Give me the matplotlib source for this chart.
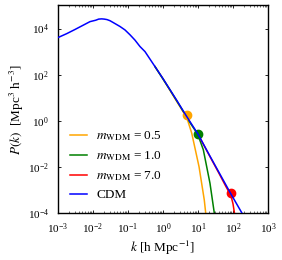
import matplotlib
matplotlib.use("Agg")
import matplotlib.pyplot as plt
from matplotlib.ticker import LogLocator, NullLocator

plt.rcParams['font.family'] = ['Liberation Serif', 'DejaVu Serif']
plt.rcParams['mathtext.fontset'] = 'stix'

# CDM power spectrum
k_cdm = [1.0e-3, 1.78e-3, 3.06e-3, 8.2e-3, 1.2e-2, 1.45e-2, 1.77e-2, 2.1e-2, 2.51e-2,
         3.06e-2, 4.2e-2, 5.9e-2, 8.2e-2, 0.114, 0.158, 0.22, 0.306, 0.59, 1.0,
         1.58, 2.51, 3.72, 4.75, 10.0, 20.0, 39.8, 87.7, 181.0, 251.0]
P_cdm = [4070, 6030, 9120, 19950, 23000, 25700, 26300, 25700, 24500,
         21900, 16600, 12300, 8710, 5370, 3160, 1660, 1000, 224, 67.6,
         22.4, 7.41, 2.78, 1.54, 0.264, 3.80e-2, 5.75e-3, 6.6e-4, 9.8e-5, 3.5e-5]

# WDM power spectra
k_wdm05 = [0.59, 1.0, 1.58, 2.51, 3.72, 4.75, 6.61, 10.7, 15.1, 16.6, 18.2]
P_wdm05 = [224, 66.1, 20.9, 6.61, 2.51, 1.41, 0.292, 1.02e-2, 3.72e-4, 1.0e-4, 3.5e-5]

k_wdm10 = [0.59, 1.58, 3.72, 6.31, 9.79, 14.2, 22.0, 29.2, 33.1]
P_wdm10 = [224, 21.9, 2.69, 0.708, 0.264, 5.5e-2, 1.95e-3, 1.0e-4, 3.2e-5]

k_wdm70 = [10.0, 20.0, 39.8, 63.1, 87.7, 100.0, 110.0, 117.0]
P_wdm70 = [0.262, 3.63e-2, 5.25e-3, 1.38e-3, 5.6e-4, 2.5e-4, 1.0e-4, 4.0e-5]

# half-mode markers
k_dots = [4.75, 9.79, 87.7]
P_dots = [1.82, 0.264, 7.2e-4]

labels = [r'$m_{\rm WDM}$ = 0.5', r'$m_{\rm WDM}$ = 1.0', r'$m_{\rm WDM}$ = 7.0', 'CDM']
colors = ['#FFA500', '#008000', '#FF0000', '#0000FF']

xticks = [1e-3, 1e-2, 1e-1, 1e0, 1e1, 1e2, 1e3]
yticks = [1e-4, 1e-2, 1e0, 1e2, 1e4]

fig = plt.figure(figsize=(2.82, 2.60), dpi=100)
ax = fig.add_axes([58/282, 47/260, 210/282, 207.5/260])

wdm = [(k_wdm05, P_wdm05), (k_wdm10, P_wdm10), (k_wdm70, P_wdm70)]
for i, (kk, pp) in enumerate(wdm):
    ax.plot(kk, pp, color=colors[i], lw=1.1, label=labels[i], zorder=2)
    ax.plot([k_dots[i]], [P_dots[i]], 'o', color=colors[i], ms=6, zorder=2.5)
ax.plot(k_cdm, P_cdm, color=colors[3], lw=1.1, label=labels[3], zorder=3)

ax.set_xscale('log')
ax.set_yscale('log')
ax.set_xlim(1e-3, 1e3)
ax.set_ylim(1e-4, 1e5)
ax.set_xticks(xticks)
ax.set_yticks(yticks)
ax.xaxis.set_minor_locator(LogLocator(base=10, subs=range(2, 10), numticks=20))
ax.yaxis.set_minor_locator(NullLocator())
ax.tick_params(which='both', direction='in', top=True, right=True, labelsize=8)
ax.tick_params(axis='y', which='major', length=2.5, width=0.6, pad=6.5)
ax.tick_params(axis='x', which='major', length=2.5, width=0.6, pad=6.0)
ax.tick_params(which='minor', length=1.2, width=0.4)
for s in ax.spines.values():
    s.set_linewidth(1.0)

ax.set_xlabel(r'$k$ [h Mpc$^{-1}$]', fontsize=9.5, labelpad=2)
ax.set_ylabel(r'$P(k)$  [Mpc$^3$ h$^{-3}$]', fontsize=9.5, labelpad=1.5)

ax.legend(loc='lower left', frameon=False, fontsize=9.5, handlelength=1.3,
          handletextpad=0.7, labelspacing=0.45, borderaxespad=0.5)

fig.savefig('out.png', dpi=100)
